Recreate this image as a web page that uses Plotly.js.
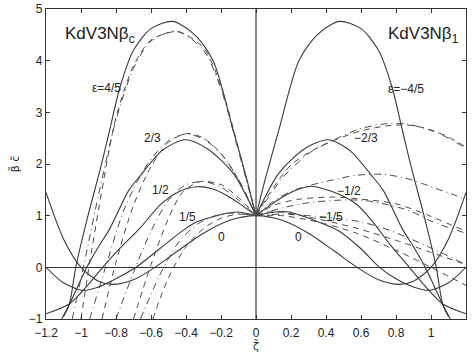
<!DOCTYPE html>
<html><head><meta charset="utf-8">
<script src="https://cdn.plot.ly/plotly-3.0.1.min.js"></script>
<style>html,body{margin:0;padding:0;background:#fff}#g{width:473px;height:354px}</style>
</head><body><div id="g"></div>
<script>
// ---- solid curves (exact model) ----
const s0_x = [-1.2,-1.1,-1.0,-0.9,-0.82,-0.7,-0.577,-0.45,-0.3,-0.15,0,0.15,0.3,0.45,0.577,0.7,0.82,0.9,1.0,1.1,1.2];
const s0_y = [1.45,0.55,0,-0.27,-0.33,-0.24,0,0.31,0.66,0.91,1,0.91,0.66,0.31,0,-0.24,-0.33,-0.27,0,0.55,1.45];

const sL45_x = [-1.1,-1.067,-1.03,-0.96,-0.89,-0.84,-0.777,-0.7,-0.6,-0.476,-0.35,-0.245,-0.13,-0.06,0];
const sL45_y = [-0.95,-0.72,0,1.0,1.9,2.6,3.49,4.2,4.62,4.76,4.5,4.0,2.65,1.8,1];
const sL23_x = [-1.11,-1.067,-0.967,-0.9,-0.84,-0.727,-0.66,-0.537,-0.406,-0.28,-0.13,0];
const sL23_y = [-1,-0.72,0,0.4,0.72,1.49,1.78,2.26,2.47,2.3,1.82,1];
const sL12_x = [-1.2,-1.063,-0.95,-0.876,-0.78,-0.663,-0.55,-0.45,-0.34,-0.25,-0.167,-0.08,0];
const sL12_y = [-0.9,-0.70,-0.3,0,0.36,0.76,1.2,1.45,1.56,1.52,1.39,1.2,1];
const sL15_x = [-1.2,-1.1,-0.99,-0.9,-0.8,-0.686,-0.55,-0.415,-0.34,-0.225,-0.11,0];
const sL15_y = [0,-0.3,-0.445,-0.38,-0.22,0,0.36,0.72,0.876,1.0,1.07,1];

const sR45_x = [0,0.06,0.13,0.245,0.35,0.476,0.6,0.7,0.777,0.84,0.89,0.96,1.03,1.067,1.1];
const sR45_y = [1,1.8,2.65,4.0,4.5,4.76,4.62,4.2,3.49,2.6,1.9,1.0,0,-0.72,-0.95];
const sR23_x = [0,0.13,0.28,0.413,0.537,0.66,0.727,0.84,0.9,0.967,1.067,1.11];
const sR23_y = [1,1.82,2.3,2.47,2.26,1.78,1.49,0.72,0.4,0,-0.72,-1];
const sR12_x = [0,0.08,0.167,0.25,0.314,0.45,0.571,0.663,0.762,0.876,0.95,1.063,1.2];
const sR12_y = [1,1.2,1.39,1.52,1.57,1.45,1.23,0.9,0.46,0,-0.3,-0.70,-0.9];
const sR15_x = [0,0.11,0.19,0.34,0.476,0.6,0.705,0.8,0.9,0.99,1.1,1.2];
const sR15_y = [1,1.07,1.07,0.9,0.7,0.36,0,-0.22,-0.38,-0.445,-0.3,0];

// ---- dashed (left family) ----
const dL45_x = [-1.0,-0.95,-0.88,-0.8,-0.7,-0.6,-0.45,-0.3,-0.2,-0.1,0];
const dL45_y = [-1,0.1,1.5,2.9,3.9,4.4,4.56,4.25,3.5,2.3,1];
const dL23_x = [-0.88,-0.8,-0.7,-0.6,-0.5,-0.396,-0.3,-0.2,-0.1,0];
const dL23_y = [-1,0.1,1.2,1.95,2.42,2.59,2.5,2.2,1.7,1];
const dL12_x = [-0.7,-0.6,-0.5,-0.42,-0.32,-0.2,-0.1,0];
const dL12_y = [-1,0.05,0.95,1.45,1.66,1.6,1.35,1];
const dL15_x = [-0.59,-0.5,-0.4,-0.3,-0.2,-0.1,0];
const dL15_y = [-1,-0.2,0.4,0.75,0.95,1.03,1];
// ---- dash-dot (left family) ----
const ddL45_x = [-1.05,-0.98,-0.9,-0.8,-0.7,-0.6,-0.45,-0.3,-0.2,-0.1,0];
const ddL45_y = [-1,0.1,1.4,2.85,3.85,4.38,4.57,4.2,3.45,2.25,1];
const ddL23_x = [-0.95,-0.86,-0.75,-0.62,-0.5,-0.4,-0.3,-0.2,-0.1,0];
const ddL23_y = [-1,0,1.15,2.0,2.45,2.58,2.48,2.2,1.7,1];
const ddL12_x = [-0.8,-0.7,-0.6,-0.5,-0.4,-0.3,-0.2,-0.1,0];
const ddL12_y = [-1,-0.1,0.7,1.3,1.6,1.66,1.55,1.3,1];
const ddL15_x = [-0.66,-0.55,-0.45,-0.35,-0.25,-0.15,0];
const ddL15_y = [-1,-0.15,0.45,0.8,0.98,1.05,1];

// ---- dashed (right family) ----
const dR45_x = [0,0.1,0.2,0.3,0.44,0.6,0.75,0.88,1.0,1.1,1.2];
const dR45_y = [1,1.55,1.98,2.22,2.45,2.64,2.74,2.75,2.66,2.52,2.33];
const dR23_x = [0,0.1,0.25,0.45,0.6,0.8,0.99,1.143,1.2];
const dR23_y = [1,1.2,1.32,1.36,1.32,1.23,1.0,0.78,0.7];
const dR12_x = [0,0.1,0.305,0.571,0.82,0.99,1.16,1.2];
const dR12_y = [1,1.08,0.97,0.76,0.5,0.3,0.1,0.05];
const dR15_x = [0,0.15,0.35,0.575,0.8,1.0,1.2];
const dR15_y = [1,1.0,0.88,0.66,0.33,0.0,-0.35];
// ---- dash-dot (right family) ----
const ddR45_x = [0,0.08,0.156,0.3,0.44,0.594,0.72,0.85,1.0,1.1,1.2];
const ddR45_y = [1,1.4,1.75,2.2,2.46,2.68,2.77,2.78,2.65,2.5,2.3];
const ddR23_x = [0,0.1,0.213,0.423,0.571,0.724,0.85,0.952,1.05,1.143,1.2];
const ddR23_y = [1,1.28,1.49,1.68,1.78,1.8,1.73,1.62,1.5,1.39,1.3];
const ddR12_x = [0,0.15,0.3,0.476,0.63,0.874,1.01,1.2];
const ddR12_y = [1,1.15,1.25,1.30,1.29,1.10,0.88,0.66];
const ddR15_x = [0,0.15,0.3,0.45,0.6,0.76,0.99,1.2];
const ddR15_y = [1,1.03,1.0,0.95,0.88,0.72,0.39,0.05];

const xTicks = [-1.2,-1,-0.8,-0.6,-0.4,-0.2,0,0.2,0.4,0.6,0.8,1,1.2];
const xTickText = ['\u22121.2','\u22121','\u22120.8','\u22120.6','\u22120.4','\u22120.2','0','0.2','0.4','0.6','0.8','1','1.2'];
const yTicks = [-1,0,1,2,3,4,5];
const yTickText = ['\u22121','0','1','2','3','4','5'];

const traces = [];
function add(x, y, dash, color, w){
  traces.push({x:x, y:y, type:'scatter', mode:'lines', hoverinfo:'skip', showlegend:false,
    line:{color:color, width:w, dash:dash, shape:'spline', smoothing:0.8}});
}
const SC = '#3a3a3a';
[[s0_x,s0_y],[sL45_x,sL45_y],[sL23_x,sL23_y],[sL12_x,sL12_y],[sL15_x,sL15_y],
 [sR45_x,sR45_y],[sR23_x,sR23_y],[sR12_x,sR12_y],[sR15_x,sR15_y]].forEach(p=>add(p[0],p[1],'solid',SC,1.1));
[[dL45_x,dL45_y],[dL23_x,dL23_y],[dL12_x,dL12_y],[dL15_x,dL15_y],
 [dR45_x,dR45_y],[dR23_x,dR23_y],[dR12_x,dR12_y],[dR15_x,dR15_y]].forEach(p=>add(p[0],p[1],'6px,5px','#4a4a4a',1));
[[ddL45_x,ddL45_y],[ddL23_x,ddL23_y],[ddL12_x,ddL12_y],[ddL15_x,ddL15_y],
 [ddR45_x,ddR45_y],[ddR23_x,ddR23_y],[ddR12_x,ddR12_y],[ddR15_x,ddR15_y]].forEach(p=>add(p[0],p[1],'7px,4px,1px,4px','#4a4a4a',1));

const F = 'Liberation Sans, Arial, sans-serif';
const FG = 'DejaVu Sans, sans-serif';
function lab(x,y,t,s){ return {x:x,y:y,xref:'x',yref:'y',text:t,showarrow:false,font:{family:F,size:s||12,color:'#222'}}; }
const annotations = [
  lab(-0.89,4.5,'KdV3N\u03b2<sub>c</sub>',17),
  lab(0.955,4.5,'KdV3N\u03b2<sub>1</sub>',17),
  lab(-0.857,3.48,'\u03b5=4/5'),
  lab(-0.594,2.5,'2/3'),
  lab(-0.543,1.49,'1/2'),
  lab(-0.394,0.97,'1/5'),
  lab(-0.2,0.58,'0'),
  lab(0.857,3.46,'\u03b5=\u22124/5'),
  lab(0.629,2.5,'\u22122/3'),
  lab(0.531,1.47,'\u22121/2'),
  lab(0.429,0.97,'\u22121/5'),
  lab(0.24,0.58,'0'),
  {x:0, y:-0.088, xref:'x', yref:'paper', yanchor:'middle', text:'\u03b6\u0303', showarrow:false,
   font:{family:FG,size:11,color:'#222'}}
];

const layout = {
  width:473, height:354, margin:{l:46,r:7,t:9,b:35},
  paper_bgcolor:'#fff', plot_bgcolor:'#fff',
  font:{family:F, size:12, color:'#222'},
  xaxis:{range:[-1.2,1.2], tickvals:xTicks, ticktext:xTickText, ticks:'inside', ticklen:4, tickcolor:'#333',
    ticklabelstandoff:2,
    showgrid:false, zeroline:true, zerolinecolor:'#888', zerolinewidth:1.5, showline:true, linecolor:'#333', linewidth:1.2, mirror:'ticks',
    tickfont:{family:F,size:12}},
  yaxis:{range:[-1,5], tickvals:yTicks, ticktext:yTickText, ticks:'inside', ticklen:4, tickcolor:'#333',
    showgrid:false, zeroline:true, zerolinecolor:'#333', zerolinewidth:1, showline:true, linecolor:'#333', linewidth:1.2, mirror:'ticks',
    title:{text:'\u03b2\u0303 c\u0303', font:{family:FG,size:11}, standoff:6}, tickfont:{family:F,size:12}},
  annotations:annotations
};
Plotly.newPlot('g', traces, layout, {displayModeBar:false, staticPlot:true});
</script></body></html>
